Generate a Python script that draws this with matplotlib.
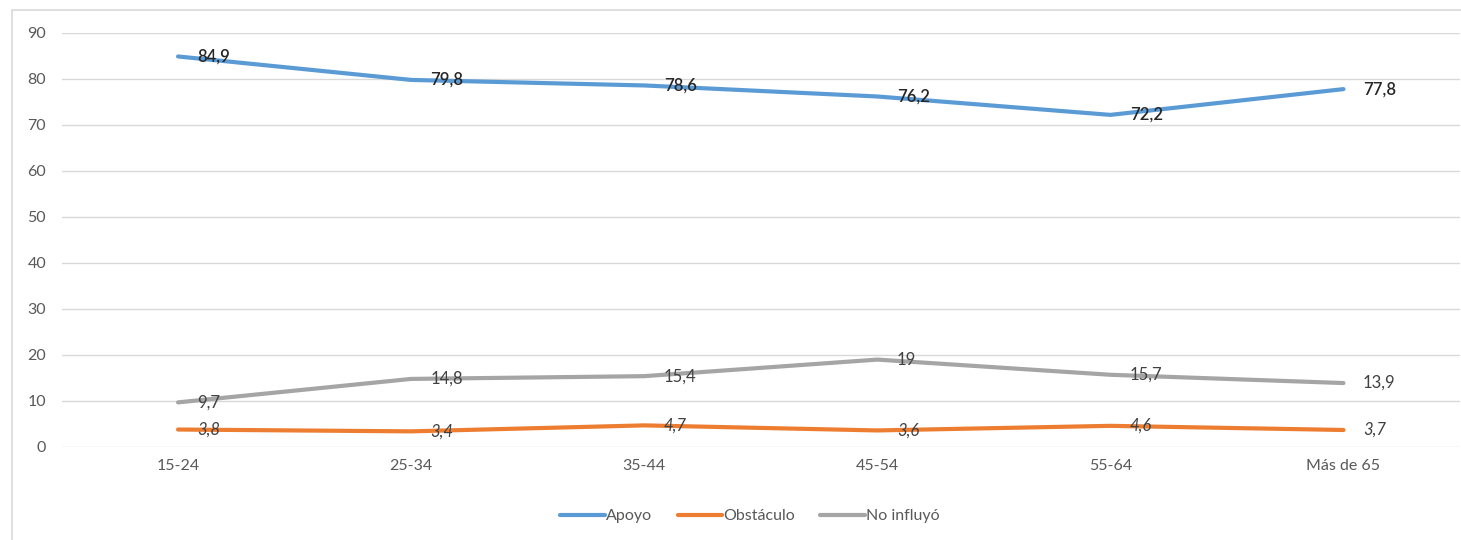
import matplotlib.pyplot as plt
from matplotlib.patches import Rectangle

# Data
categories = ['15-24', '25-34', '35-44', '45-54', '55-64', 'Más de 65']
apoyo = [84.9, 79.8, 78.6, 76.2, 72.2, 77.8]
obstaculo = [3.8, 3.4, 4.7, 3.6, 4.6, 3.7]
no_influyo = [9.7, 14.8, 15.4, 19, 15.7, 13.9]
y_ticks = [0, 10, 20, 30, 40, 50, 60, 70, 80, 90]

plt.rcParams['font.family'] = ['Lato', 'DejaVu Sans']

W, H = 1461, 540
fig = plt.figure(figsize=(W / 100, H / 100), dpi=100)

# light outer chart frame
fig.patches.append(Rectangle((12 / W, -0.05), 1.2, 1 - 10 / H + 0.05,
                             transform=fig.transFigure, fill=False,
                             edgecolor='#d9d9d9', linewidth=1.2))

ax = fig.add_axes([61.5 / W, 1 - 447 / H, (1460 - 61.5) / W, (447 - 33) / H])

x = list(range(len(categories)))
series = [
    ('Apoyo', apoyo, '#5b9bd5', dict(fontweight='semibold', color='#262626')),
    ('Obstáculo', obstaculo, '#ed7d31', dict(fontstyle='italic', color='#404040')),
    ('No influyó', no_influyo, '#a5a5a5', dict(color='#404040')),
]

for name, vals, color, style in series:
    ax.plot(x, vals, color=color, linewidth=3, label=name, solid_capstyle='round')
    for xi, v in zip(x, vals):
        txt = f'{v:g}'.replace('.', ',')
        ax.annotate(txt, (xi, v), xytext=(14, 0), textcoords='offset points',
                    ha='left', va='center', fontsize=12, **style)

ax.set_xlim(-0.5, len(categories) - 0.5)
ax.set_ylim(0, 90)
ax.set_yticks(y_ticks)
ax.set_xticks(x)
ax.set_xticklabels(categories)
ax.tick_params(axis='both', length=0, labelsize=11.5, labelcolor='#595959')
ax.tick_params(axis='y', pad=11)
ax.tick_params(axis='x', pad=9)
ax.grid(axis='y', color='#d9d9d9', linewidth=1)
ax.set_axisbelow(True)
for sp in ax.spines.values():
    sp.set_visible(False)

leg = fig.legend(loc='center', bbox_to_anchor=(750 / W, 1 - 516 / H), ncol=3,
                 frameon=False, fontsize=11.5, handlelength=2.8, handletextpad=0.05,
                 columnspacing=1.6)
for t in leg.get_texts():
    t.set_color('#595959')

fig.savefig('out.png', dpi=100)
